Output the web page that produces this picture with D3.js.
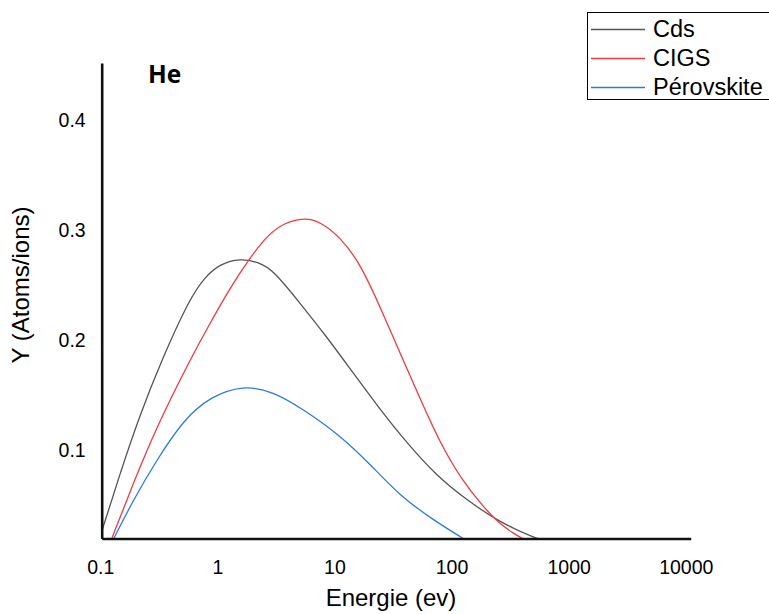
<!DOCTYPE html>
<html>
<head>
<meta charset="utf-8">
<script src="https://cdn.jsdelivr.net/npm/d3@7"></script>
<style>
  body { margin: 0; background: #fff; }
  text { font-family: "Liberation Sans", Arial, sans-serif; fill: #000; }
</style>
</head>
<body>
<div id="chart"></div>
<script>
// data (energy in eV, yield in atoms/ion)
const energyCds = [0.101, 0.145, 0.212, 0.325, 0.567, 0.762, 1.024, 1.52, 2.16, 2.92, 4.94, 8.34, 14.1, 22.3, 40.3, 72.6, 131, 244, 485, 532];
const yieldCds = [0.0277, 0.0807, 0.1322, 0.1822, 0.2385, 0.2576, 0.2694, 0.2746, 0.2712, 0.2639, 0.2337, 0.2033, 0.1701, 0.1413, 0.1068, 0.0768, 0.055, 0.0354, 0.0211, 0.02];

const energyCigs = [0.122, 0.186, 0.295, 0.567, 0.841, 1.25, 1.79, 2.56, 3.56, 5.45, 7.31, 10.8, 16.1, 23.8, 35.3, 52.2, 77.4, 119, 181, 244, 327, 391];
const yieldCigs = [0.02, 0.0701, 0.1216, 0.1822, 0.2155, 0.2476, 0.273, 0.2948, 0.3066, 0.3116, 0.3078, 0.2942, 0.27, 0.2306, 0.1883, 0.1474, 0.1068, 0.0731, 0.0489, 0.0344, 0.0247, 0.02];

const energyPerov = [0.127, 0.186, 0.295, 0.498, 0.841, 1.62, 2.92, 5.11, 10.8, 19.5, 35.3, 67.9, 122];
const yieldPerov = [0.02, 0.055, 0.0913, 0.1277, 0.1488, 0.1595, 0.1534, 0.1383, 0.114, 0.0877, 0.0586, 0.0368, 0.02];

const seriesNames = ["Cds", "CIGS", "Pérovskite"];
const seriesColors = ["#555555", "#ef3b3b", "#2b7be0"];

const xTicks = [0.1, 1, 10, 100, 1000, 10000];
const xTickLabels = ["0.1", "1", "10", "100", "1000", "10000"];
const yTicks = [0.1, 0.2, 0.3, 0.4];

const width = 769;
const height = 614;

const svg = d3.select("#chart")
    .append("svg")
    .attr("width", width)
    .attr("height", height);

// scales
const x = d3.scaleLog()
    .domain([0.1, 10700])
    .range([101.7, 690.7]);

const y = d3.scaleLinear()
    .domain([0.02, 0.452])
    .range([538.5, 63]);

// curves
const series = [
    { energy: energyCds, yield: yieldCds },
    { energy: energyCigs, yield: yieldCigs },
    { energy: energyPerov, yield: yieldPerov }
];

// basis spline smooths out the reading noise a bit
const line = d3.line()
    .x(d => x(d[0]))
    .y(d => y(d[1]))
    .curve(d3.curveBasis);

svg.append("g")
    .attr("class", "curves")
    .selectAll("path")
    .data(series)
    .enter().append("path")
    .attr("d", s => line(d3.zip(s.energy, s.yield)))
    .attr("fill", "none")
    .attr("stroke", (s, i) => seriesColors[i])
    .attr("stroke-width", 1.3);

// axes, no tick marks, just the lines and labels
const xAxis = svg.append("g")
    .attr("transform", `translate(0,${y(0.02)})`)
    .call(d3.axisBottom(x)
        .tickValues(xTicks)
        .tickFormat((d, i) => xTickLabels[i])
        .tickSize(0)
        .tickPadding(22));

xAxis.select(".domain")
    .attr("stroke", "#111")
    .attr("stroke-width", 2.6);
xAxis.selectAll("text")
    .attr("font-size", 19.5)
    .attr("font-family", "'Liberation Sans', Arial, sans-serif")
    .attr("dx", -1.5);

const yAxis = svg.append("g")
    .attr("transform", `translate(${x(0.1)},0)`)
    .call(d3.axisLeft(y)
        .tickValues(yTicks)
        .tickFormat(d3.format(".1f"))
        .tickSize(0)
        .tickPadding(16));

yAxis.select(".domain")
    .attr("stroke", "#111")
    .attr("stroke-width", 2.6);
yAxis.selectAll("text")
    .attr("font-size", 19.5)
    .attr("font-family", "'Liberation Sans', Arial, sans-serif");

// axis titles
svg.append("text")
    .attr("x", 391)
    .attr("y", 606)
    .attr("text-anchor", "middle")
    .attr("font-size", 24)
    .text("Energie (ev)");

svg.append("text")
    .attr("transform", "translate(29,285) rotate(-90)")
    .attr("text-anchor", "middle")
    .attr("font-size", 24)
    .text("Y (Atoms/ions)");

// "He" label in the corner
svg.append("text")
    .attr("x", 148)
    .attr("y", 83)
    .attr("font-weight", "bold")
    .attr("font-size", 24.5)
    .style("font-family", "'Open Sans', sans-serif")
    .text("He");

// legend, box runs off the right edge
const legend = svg.append("g").attr("class", "legend");

legend.append("rect")
    .attr("x", 587.5)
    .attr("y", 12.5)
    .attr("width", 200)
    .attr("height", 87)
    .attr("fill", "#fff")
    .attr("stroke", "#000")
    .attr("stroke-width", 1);

const legendRows = legend.selectAll("g.row")
    .data(seriesNames)
    .enter().append("g")
    .attr("class", "row")
    .attr("transform", (d, i) => `translate(0,${29.5 + i * 29})`);

legendRows.append("line")
    .attr("x1", 591)
    .attr("x2", 645)
    .attr("stroke", (d, i) => seriesColors[i])
    .attr("stroke-width", 1.3);

legendRows.append("text")
    .attr("x", 653)
    .attr("y", 7.5)
    .attr("font-size", 23.5)
    .text(d => d);
</script>
</body>
</html>
